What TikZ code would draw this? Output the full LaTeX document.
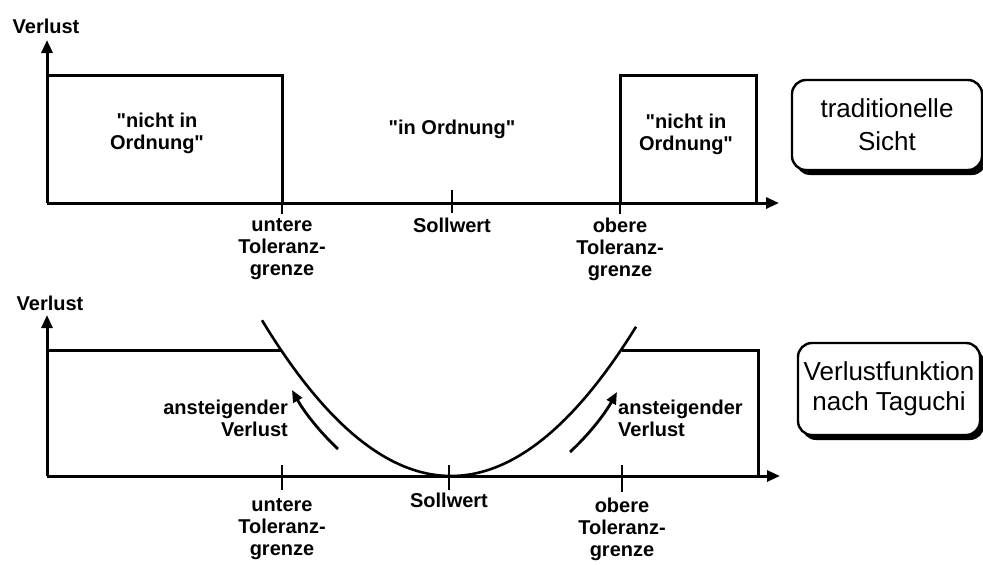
\documentclass[tikz,border=0pt]{standalone}
\usepackage{fontspec}
\setmainfont{Liberation Sans}
\newfontfamily\lblfont{Liberation Sans}
\usetikzlibrary{arrows.meta,shadows}
\begin{document}
\begin{tikzpicture}[x=1pt,y=-1pt,
  axis/.style={line width=3pt,-{Triangle[length=13pt,width=11pt]}},
  frame/.style={line width=3pt},
  tickmark/.style={line width=2pt},
  curve/.style={line width=2.6pt},
  risearrow/.style={line width=2.8pt,-{Triangle[length=12pt,width=10pt]}},
  lbl/.style={font=\lblfont\fontsize{20}{22}\selectfont\bfseries, align=center, inner sep=0pt},
  tbox/.style={draw, line width=2.4pt, rounded corners=14pt, fill=white,
    drop shadow={shadow xshift=4pt, shadow yshift=-5pt, fill=black, opacity=1},
    align=center, inner sep=0pt}
]
\useasboundingbox (0,0) rectangle (983,565);

% ---------- top chart ----------
\coordinate (O1) at (47,203);
\coordinate (Y1) at (47,40);
\coordinate (X1) at (779,203);
\coordinate (L1top) at (47,75);
\coordinate (U1) at (282,203);
\coordinate (U1top) at (282,75);
\coordinate (R1) at (620,203);
\coordinate (R1top) at (620,75);
\coordinate (E1top) at (756,75);
\coordinate (E1) at (756,203);

\draw[frame] (L1top) -- (U1top) -- (U1);
\draw[frame] (R1) -- (R1top) -- (E1top) -- (E1);
\draw[axis] (O1) -- (X1);
\draw[axis] (O1) -- (Y1);
\draw[tickmark] (282,190) -- (282,214);
\draw[tickmark] (452,190) -- (452,213);
\draw[tickmark] (620,190) -- (620,214);

\node[lbl, anchor=north] (v1) at (46,19) {Verlust};
\node[lbl, anchor=north] (nio1) at (157,113) {"nicht in\\Ordnung"};
\node[lbl, anchor=north] (io) at (452,120) {"in Ordnung"};
\node[lbl, anchor=north] (nio2) at (686,114) {"nicht in\\Ordnung"};
\node[lbl, anchor=north] (ut1) at (282,218) {untere\\Toleranz-\\grenze};
\node[lbl, anchor=north] (sw1) at (452,218) {Sollwert};
\node[lbl, anchor=north] (ot1) at (620,218) {obere\\Toleranz-\\grenze};

\node[tbox, minimum width=190pt, minimum height=90pt,
  font=\fontsize{26}{33}\selectfont] (trad) at (887,125) {traditionelle\\Sicht};

% ---------- bottom chart ----------
\coordinate (O2) at (47,476);
\coordinate (Y2) at (47,315);
\coordinate (X2) at (780,476);
\coordinate (L2top) at (47,350);
\coordinate (U2top) at (282,350);
\coordinate (R2top) at (622,350);
\coordinate (E2top) at (758,350);
\coordinate (E2) at (758,476);

\draw[frame] (L2top) -- (U2top);
\draw[frame] (R2top) -- (E2top) -- (E2);
\draw[axis] (O2) -- (X2);
\draw[axis] (O2) -- (Y2);
\draw[tickmark] (282,465) -- (282,490);
\draw[tickmark] (449,465) -- (449,490);
\draw[tickmark] (622,465) -- (622,492);

\draw[curve] plot[domain=262:636, samples=80, smooth] (\x, {476 - 0.436*((\x-451)/10)^2});

\coordinate (la0) at (338,449);
\coordinate (la1) at (292,390);
\coordinate (ra0) at (570,452);
\coordinate (ra1) at (617,392);
\draw[risearrow] (la0) .. controls (319.7,431.8) and (304.3,412.2) .. (la1);
\draw[risearrow] (ra0) .. controls (588.9,434.5) and (604.5,414.5) .. (ra1);

\node[lbl, anchor=north] (v2) at (50,296) {Verlust};
\node[lbl, anchor=north east, align=right] (al) at (288,400) {ansteigender\\Verlust};
\node[lbl, anchor=north west, align=left] (ar) at (618,400) {ansteigender\\Verlust};
\node[lbl, anchor=north] (ut2) at (282,498) {untere\\Toleranz-\\grenze};
\node[lbl, anchor=north] (sw2) at (449,493) {Sollwert};
\node[lbl, anchor=north] (ot2) at (622,498) {obere\\Toleranz-\\grenze};

\node[tbox, minimum width=182pt, minimum height=92pt,
  font=\fontsize{26}{30}\selectfont] (tag) at (889,389) {Verlustfunktion\\nach Taguchi};
\end{tikzpicture}
\end{document}
